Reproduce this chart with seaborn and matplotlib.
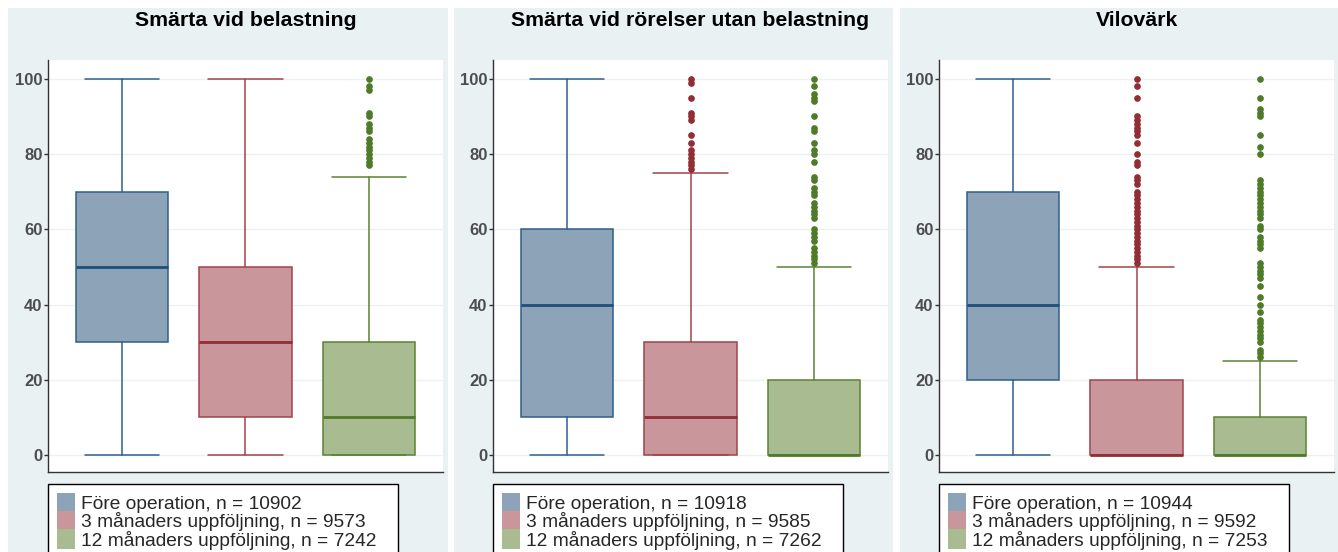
import numpy as np
import matplotlib.pyplot as plt
import seaborn as sns
from matplotlib.patches import Rectangle, Patch

# data
titles = ["Smärta vid belastning", "Smärta vid rörelser utan belastning", "Vilovärk"]
groups = ["Före operation", "3 månaders uppföljning", "12 månaders uppföljning"]
n_counts = [[10902, 9573, 7242], [10918, 9585, 7262], [10944, 9592, 7253]]

whislo = [[0, 0, 0], [0, 0, 0], [0, 0, 0]]
q1 = [[30, 10, 0], [10, 0, 0], [20, 0, 0]]
median = [[50, 30, 10], [40, 10, 0], [40, 0, 0]]
q3 = [[70, 50, 30], [60, 30, 20], [70, 20, 10]]
whishi = [[100, 100, 74], [100, 75, 50], [100, 50, 25]]

fliers_belastning = [[], [],
                     [100, 98, 97, 91, 90, 88, 87, 86, 84, 83, 82, 81, 80, 79, 78, 77]]
fliers_rorelser = [[],
                   [100, 99, 95, 91, 90, 89, 85, 83, 81, 80, 79, 78, 77, 76],
                   [100, 98, 96, 95, 94, 90, 87, 86, 83, 81, 80, 78, 74, 73, 71, 70, 69,
                    67, 66, 65, 64, 63, 60, 59, 58, 57, 55, 54, 53, 52, 51]]
fliers_vilovark = [[],
                   [100, 98, 95, 90, 89, 88, 87, 86, 85, 83, 80, 78, 77, 74, 73, 72, 70,
                    69, 68, 67, 66, 65, 64, 63, 62, 61, 60, 59, 58, 57, 56, 55, 54, 53,
                    52, 51],
                   [100, 95, 92, 91, 90, 85, 82, 80, 73, 72, 71, 70, 69, 68, 67, 66, 65,
                    64, 63, 61, 60, 58, 57, 56, 55, 51, 50, 49, 48, 47, 45, 42, 40, 38,
                    36, 35, 34, 33, 32, 31, 30, 28, 27, 26]]
fliers = [fliers_belastning, fliers_rorelser, fliers_vilovark]

fill_colors = ["#8da3b8", "#c9979b", "#a9bb90"]
edge_colors = ["#2f5f8a", "#a0444c", "#5b8232"]
median_colors = ["#1f4e79", "#912d35", "#4f7a28"]

sns.set_theme(style="white")
plt.rcParams["font.family"] = ["Liberation Sans", "DejaVu Sans"]

W, H = 1338, 552
fig = plt.figure(figsize=(W / 100, H / 100), dpi=100)
fig.patch.set_facecolor("white")

panel_x = [8, 454, 900]
panel_w = [440, 439, 438]
axes_x = [48, 493, 939]

for i in range(3):
    fig.patches.append(Rectangle((panel_x[i] / W, 0), panel_w[i] / W, (H - 8) / H,
                                 transform=fig.transFigure, facecolor="#e9f1f3",
                                 edgecolor="none", zorder=-10))

    ax = fig.add_axes([axes_x[i] / W, (H - 472) / H, 395 / W, 412 / H])
    ax.set_facecolor("white")

    stats = []
    for j in range(3):
        stats.append({"med": median[i][j], "q1": q1[i][j], "q3": q3[i][j],
                      "whislo": whislo[i][j], "whishi": whishi[i][j],
                      "fliers": np.array(fliers[i][j], dtype=float), "label": groups[j]})

    for j in range(3):
        ax.bxp([stats[j]], positions=[j], widths=0.75, capwidths=0.6, patch_artist=True,
               boxprops=dict(facecolor=fill_colors[j], edgecolor=edge_colors[j], linewidth=1.1),
               whiskerprops=dict(color=edge_colors[j], linewidth=1.1),
               capprops=dict(color=edge_colors[j], linewidth=1.1),
               medianprops=dict(color=median_colors[j], linewidth=2),
               flierprops=dict(marker="o", markersize=3.8, markerfacecolor=median_colors[j],
                               markeredgecolor=median_colors[j]))

    ax.set_xlim(-0.6, 2.6)
    ax.set_ylim(-4.5, 105)
    ax.set_xticks([])
    ax.set_yticks([0, 20, 40, 60, 80, 100])
    ax.yaxis.grid(True, color="#edf1f2", linewidth=1)
    ax.set_axisbelow(True)
    for s in ["top", "right"]:
        ax.spines[s].set_visible(False)
    for s in ["left", "bottom"]:
        ax.spines[s].set_color("#333333")
        ax.spines[s].set_linewidth(1.0)
    ax.tick_params(axis="y", left=True, length=3, width=1, color="#333333", pad=1,
                   labelsize=12, labelcolor="#4d4d4d")
    for lab in ax.get_yticklabels():
        lab.set_fontweight("bold")

    fig.text((axes_x[i] + 197.5) / W, (H - 21) / H, titles[i], ha="center", va="center",
             fontsize=15.3, fontweight="bold", color="black")

    handles = [Patch(facecolor=fill_colors[j], edgecolor="none") for j in range(3)]
    labels = [f"{groups[j]}, n = {n_counts[i][j]}" for j in range(3)]
    fig.legend(handles, labels, loc="upper left", mode="expand",
               bbox_to_anchor=(axes_x[i] / W, (H - 484) / H - 0.2, 350 / W, 0.2),
               fontsize=13.8, frameon=True, fancybox=False, edgecolor="black",
               framealpha=1, borderpad=0.45, labelspacing=-0.12, handlelength=0.95,
               handleheight=1.25, handletextpad=0.3, borderaxespad=0)
    leg = fig.legends[-1]
    leg.get_frame().set_linewidth(1.0)

fig.savefig("out.png", dpi=100)
